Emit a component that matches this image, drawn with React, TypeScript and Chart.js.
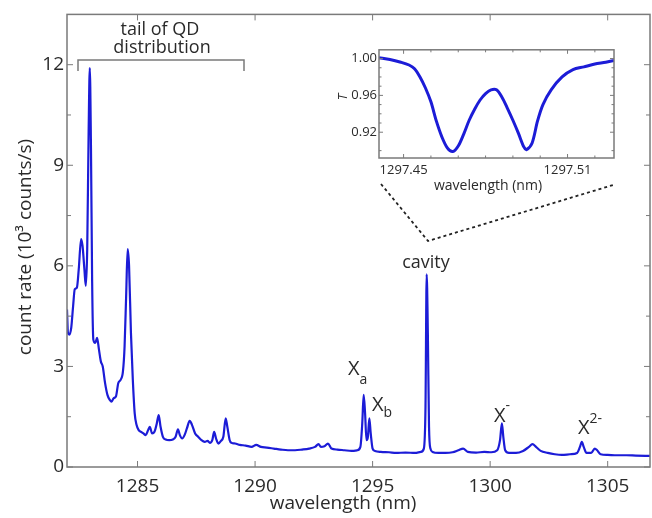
import React, { useEffect, useRef } from "react";
import { Chart, registerables } from "chart.js";

Chart.register(...registerables);

// ---------- main spectrum ----------
const wavelength = [
  1282.00, 1282.04, 1282.10, 1282.18, 1282.26, 1282.33, 1282.42, 1282.50, 1282.60, 1282.66,
  1282.74, 1282.80, 1282.86, 1282.92, 1282.97, 1283.02, 1283.07, 1283.12, 1283.20, 1283.28,
  1283.36, 1283.44, 1283.52, 1283.62, 1283.72, 1283.82, 1283.90, 1283.98, 1284.08, 1284.18,
  1284.28, 1284.38, 1284.45, 1284.52, 1284.58, 1284.64, 1284.72, 1284.80, 1284.88, 1284.96,
  1285.05, 1285.15, 1285.25, 1285.35, 1285.45, 1285.52, 1285.62, 1285.72, 1285.82, 1285.90,
  1285.98, 1286.08, 1286.20, 1286.35, 1286.50, 1286.62, 1286.72, 1286.80, 1286.90, 1287.00,
  1287.10, 1287.22, 1287.32, 1287.45, 1287.58, 1287.72, 1287.86, 1287.98, 1288.08, 1288.18,
  1288.26, 1288.34, 1288.44, 1288.55, 1288.65, 1288.75, 1288.82, 1288.92, 1289.00, 1289.15,
  1289.35, 1289.60, 1289.85, 1290.05, 1290.25, 1290.50, 1290.80, 1291.10, 1291.40, 1291.70,
  1292.00, 1292.30, 1292.55, 1292.70, 1292.80, 1292.95, 1293.10, 1293.25, 1293.50, 1293.80,
  1294.10, 1294.35, 1294.48, 1294.56, 1294.62, 1294.68, 1294.74, 1294.80, 1294.86, 1294.92,
  1295.00, 1295.10, 1295.35, 1295.70, 1296.00, 1296.40, 1296.80, 1297.05, 1297.18, 1297.25,
  1297.30, 1297.35, 1297.40, 1297.46, 1297.55, 1297.80, 1298.10, 1298.40, 1298.65, 1298.85,
  1299.05, 1299.40, 1299.75, 1300.05, 1300.30, 1300.42, 1300.50, 1300.56, 1300.64, 1300.80,
  1301.10, 1301.40, 1301.65, 1301.80, 1301.95, 1302.15, 1302.45, 1302.75, 1303.05, 1303.40,
  1303.70, 1303.82, 1303.90, 1303.98, 1304.10, 1304.30, 1304.45, 1304.55, 1304.70, 1305.00,
  1305.40, 1305.80, 1306.20, 1306.80,
];
const countRate = [
  4.7, 4.0, 3.95, 4.15, 4.8, 5.3, 5.35, 5.9, 6.8, 6.6,
  5.9, 5.4, 6.5, 10.0, 11.9, 9.5, 5.5, 3.8, 3.7, 3.85,
  3.5, 3.15, 3.0, 2.5, 2.15, 2.0, 1.95, 2.05, 2.1, 2.5,
  2.6, 2.85, 3.6, 5.2, 6.5, 6.0, 4.0, 2.6, 1.6, 1.25,
  1.1, 1.05, 1.0, 0.95, 1.1, 1.2, 1.0, 1.05, 1.3, 1.55,
  1.2, 0.9, 0.82, 0.8, 0.82, 0.9, 1.12, 0.95, 0.85, 0.95,
  1.15, 1.38, 1.25, 1.0, 0.9, 0.8, 0.75, 0.78, 0.72, 0.8,
  1.05, 0.85, 0.7, 0.78, 0.9, 1.45, 1.2, 0.8, 0.72, 0.7,
  0.66, 0.64, 0.6, 0.66, 0.6, 0.58, 0.55, 0.52, 0.5, 0.5,
  0.52, 0.55, 0.6, 0.68, 0.6, 0.62, 0.7, 0.55, 0.52, 0.5,
  0.48, 0.5, 0.6, 1.3, 2.15, 1.6, 0.8, 0.9, 1.45, 1.0,
  0.55, 0.48, 0.45, 0.44, 0.42, 0.43, 0.42, 0.45, 0.55, 1.8,
  5.75, 4.0, 1.2, 0.55, 0.45, 0.42, 0.42, 0.44, 0.5, 0.55,
  0.45, 0.43, 0.45, 0.44, 0.5, 0.8, 1.3, 0.9, 0.5, 0.42,
  0.42, 0.48, 0.6, 0.68, 0.6, 0.48, 0.42, 0.38, 0.36, 0.38,
  0.42, 0.6, 0.75, 0.6, 0.42, 0.42, 0.55, 0.5, 0.38, 0.36,
  0.35, 0.35, 0.34, 0.33,
];
const xTicks = [1285, 1290, 1295, 1300, 1305];
const yTicks = [0, 3, 6, 9, 12];
const yMinorTicks = [1.5, 4.5, 7.5, 10.5];

// ---------- inset transmission ----------
const insetWavelength = [
  1297.441, 1297.445, 1297.449, 1297.452, 1297.454, 1297.456, 1297.458, 1297.460, 1297.462, 1297.464,
  1297.466, 1297.468, 1297.470, 1297.472, 1297.474, 1297.476, 1297.478, 1297.480, 1297.482, 1297.484,
  1297.486, 1297.488, 1297.490, 1297.492, 1297.494, 1297.495, 1297.497, 1297.499, 1297.501, 1297.504,
  1297.508, 1297.512, 1297.516, 1297.520, 1297.524, 1297.527,
];
const insetT = [
  1.001, 0.999, 0.996, 0.993, 0.989, 0.980, 0.968, 0.953, 0.932, 0.915,
  0.903, 0.899, 0.905, 0.918, 0.933, 0.945, 0.955, 0.962, 0.966, 0.966,
  0.958, 0.946, 0.933, 0.919, 0.904, 0.901, 0.908, 0.932, 0.950, 0.966,
  0.980, 0.988, 0.991, 0.994, 0.996, 0.998,
];
const insetXTicks = [1297.45, 1297.51];
const insetXMinor = [1297.46, 1297.47, 1297.48, 1297.49, 1297.50, 1297.52];
const insetYTicks = [0.92, 0.96, 1.0];
const insetYMinor = [0.9, 0.93, 0.94, 0.95, 0.97, 0.98, 0.99];

const FONT = "'Open Sans', 'DejaVu Sans', sans-serif";
const LINE = "rgb(28,28,215)";
const AXIS = "#7a7a7a";
const TEXT = "#2a2a2a";

function drawBox(ctx: CanvasRenderingContext2D, chart: any, xt: number[], yt: number[], xm: number[], ym: number[], major: number, minor: number) {
  const a = chart.chartArea;
  const xs = chart.scales.x;
  const ys = chart.scales.y;
  ctx.save();
  ctx.strokeStyle = AXIS;
  ctx.lineWidth = 1.5;
  ctx.strokeRect(a.left, a.top, a.right - a.left, a.bottom - a.top);
  ctx.lineWidth = 1;
  const vt = (v: number, len: number) => {
    const x = xs.getPixelForValue(v);
    ctx.beginPath();
    ctx.moveTo(x, a.bottom); ctx.lineTo(x, a.bottom - len);
    ctx.moveTo(x, a.top); ctx.lineTo(x, a.top + len);
    ctx.stroke();
  };
  const ht = (v: number, len: number) => {
    const y = ys.getPixelForValue(v);
    ctx.beginPath();
    ctx.moveTo(a.left, y); ctx.lineTo(a.left + len, y);
    ctx.moveTo(a.right, y); ctx.lineTo(a.right - len, y);
    ctx.stroke();
  };
  xt.forEach((v) => vt(v, major));
  xm.forEach((v) => vt(v, minor));
  yt.forEach((v) => ht(v, major));
  ym.forEach((v) => ht(v, minor));
  ctx.restore();
}

function labelWithScript(ctx: CanvasRenderingContext2D, x: number, y: number, script: string, dy: number) {
  ctx.font = `20px ${FONT}`;
  ctx.fillText("X", x, y);
  const w = ctx.measureText("X").width;
  ctx.font = `14px ${FONT}`;
  ctx.fillText(script, x + w, y + dy);
}

const mainOverlay = {
  id: "mainOverlay",
  afterDraw(chart: any) {
    const ctx: CanvasRenderingContext2D = chart.ctx;
    drawBox(ctx, chart, xTicks, yTicks, [], yMinorTicks, 6, 4);
    ctx.save();
    ctx.fillStyle = TEXT;
    // axis titles
    ctx.font = `19px ${FONT}`;
    ctx.textAlign = "center";
    ctx.textBaseline = "middle";
    ctx.fillText("wavelength (nm)", 343, 504);
    ctx.save();
    ctx.translate(26, 247);
    ctx.rotate(-Math.PI / 2);
    ctx.fillText("count rate (10\u00B3 counts/s)", 0, 0);
    ctx.restore();

    // bracket
    ctx.strokeStyle = AXIS;
    ctx.lineWidth = 1.5;
    ctx.beginPath();
    ctx.moveTo(78, 71); ctx.lineTo(78, 60); ctx.lineTo(244, 60); ctx.lineTo(244, 71);
    ctx.stroke();
    ctx.font = `18px ${FONT}`;
    ctx.fillText("tail of QD", 160, 30);
    ctx.fillText("distribution", 162, 48);

    // cavity
    ctx.fillText("cavity", 426, 263);

    // peak labels
    ctx.textAlign = "left";
    labelWithScript(ctx, 348, 369, "a", 11);
    labelWithScript(ctx, 372, 405, "b", 8);
    labelWithScript(ctx, 494, 416, "-", -10);
    labelWithScript(ctx, 578, 428, "2-", -9);

    // dashed connector lines
    ctx.strokeStyle = "#222";
    ctx.lineWidth = 1.8;
    ctx.setLineDash([3, 3]);
    ctx.beginPath();
    ctx.moveTo(381, 184); ctx.lineTo(428, 241); ctx.lineTo(613, 185);
    ctx.stroke();
    ctx.restore();
  },
};

const insetOverlay = {
  id: "insetOverlay",
  beforeDraw(chart: any) {
    const a = chart.chartArea;
    const ctx = chart.ctx;
    ctx.save();
    ctx.fillStyle = "#fff";
    ctx.fillRect(a.left, a.top, a.right - a.left, a.bottom - a.top);
    ctx.restore();
  },
  afterDraw(chart: any) {
    const ctx: CanvasRenderingContext2D = chart.ctx;
    drawBox(ctx, chart, insetXTicks, insetYTicks, insetXMinor, insetYMinor, 4, 2.5);
    ctx.save();
    ctx.fillStyle = TEXT;
    ctx.textAlign = "center";
    ctx.textBaseline = "middle";
    ctx.font = `14px ${FONT}`;
    ctx.fillText("wavelength (nm)", 158, 146);
    ctx.save();
    ctx.translate(13, 57);
    ctx.rotate(-Math.PI / 2);
    ctx.font = `italic 13px ${FONT}`;
    ctx.fillText("T", 0, 0);
    ctx.restore();
    ctx.restore();
  },
};

export default function App() {
  const mainRef = useRef<HTMLCanvasElement>(null);
  const insetRef = useRef<HTMLCanvasElement>(null);

  useEffect(() => {
    const main = new Chart(mainRef.current!, {
      type: "line",
      data: {
        datasets: [
          {
            data: wavelength.map((x, i) => ({ x, y: countRate[i] })),
            borderColor: LINE,
            borderWidth: 2.2,
            pointRadius: 0,
            cubicInterpolationMode: "monotone",
          },
        ],
      },
      options: {
        animation: false,
        responsive: false,
        devicePixelRatio: 1,
        layout: { padding: { top: 9, right: 2, left: 0, bottom: 0 } },
        plugins: { legend: { display: false }, tooltip: { enabled: false } },
        scales: {
          x: {
            type: "linear",
            min: 1282,
            max: 1306.8,
            afterFit: (s: any) => { s.height = 51; },
            afterBuildTicks: (s: any) => { s.ticks = xTicks.map((v) => ({ value: v })); },
            grid: { display: false, drawTicks: false },
            border: { display: false },
            ticks: {
              color: TEXT,
              font: { family: FONT, size: 19 },
              padding: 8,
              maxRotation: 0,
              callback: (v: any) => String(v),
            },
          },
          y: {
            type: "linear",
            min: 0,
            max: 13.5,
            afterFit: (s: any) => { s.width = 67; },
            afterBuildTicks: (s: any) => { s.ticks = yTicks.map((v) => ({ value: v })); },
            grid: { display: false, drawTicks: false },
            border: { display: false },
            ticks: { color: TEXT, font: { family: FONT, size: 19 }, padding: 3, callback: (v: any) => String(v) },
          },
        },
      },
      plugins: [mainOverlay],
    } as any);

    const inset = new Chart(insetRef.current!, {
      type: "line",
      data: {
        datasets: [
          {
            data: insetWavelength.map((x, i) => ({ x, y: insetT[i] })),
            borderColor: LINE,
            borderWidth: 3,
            pointRadius: 0,
            tension: 0.3,
          },
        ],
      },
      options: {
        animation: false,
        responsive: false,
        devicePixelRatio: 1,
        layout: { padding: { top: 9, right: 16, left: 0, bottom: 0 } },
        plugins: { legend: { display: false }, tooltip: { enabled: false } },
        scales: {
          x: {
            type: "linear",
            min: 1297.441,
            max: 1297.527,
            afterFit: (s: any) => { s.height = 42; },
            afterBuildTicks: (s: any) => { s.ticks = insetXTicks.map((v) => ({ value: v })); },
            grid: { display: false, drawTicks: false },
            border: { display: false },
            ticks: {
              color: TEXT,
              font: { family: FONT, size: 13 },
              padding: 4,
              maxRotation: 0,
              callback: (v: any) => Number(v).toFixed(2),
            },
          },
          y: {
            type: "linear",
            min: 0.892,
            max: 1.0095,
            afterFit: (s: any) => { s.width = 49; },
            afterBuildTicks: (s: any) => { s.ticks = insetYTicks.map((v) => ({ value: v })); },
            grid: { display: false, drawTicks: false },
            border: { display: false },
            ticks: {
              color: TEXT,
              font: { family: FONT, size: 13 },
              padding: 2,
              callback: (v: any) => Number(v).toFixed(2),
            },
          },
        },
      },
      plugins: [insetOverlay],
    } as any);

    return () => {
      main.destroy();
      inset.destroy();
    };
  }, []);

  return (
    <div style={{ position: "fixed", left: 0, top: 0, width: 652, height: 518, background: "#fff" }}>
      <canvas ref={mainRef} width={652} height={518} style={{ position: "absolute", left: 0, top: 0 }} />
      <canvas ref={insetRef} width={300} height={160} style={{ position: "absolute", left: 330, top: 40 }} />
    </div>
  );
}
